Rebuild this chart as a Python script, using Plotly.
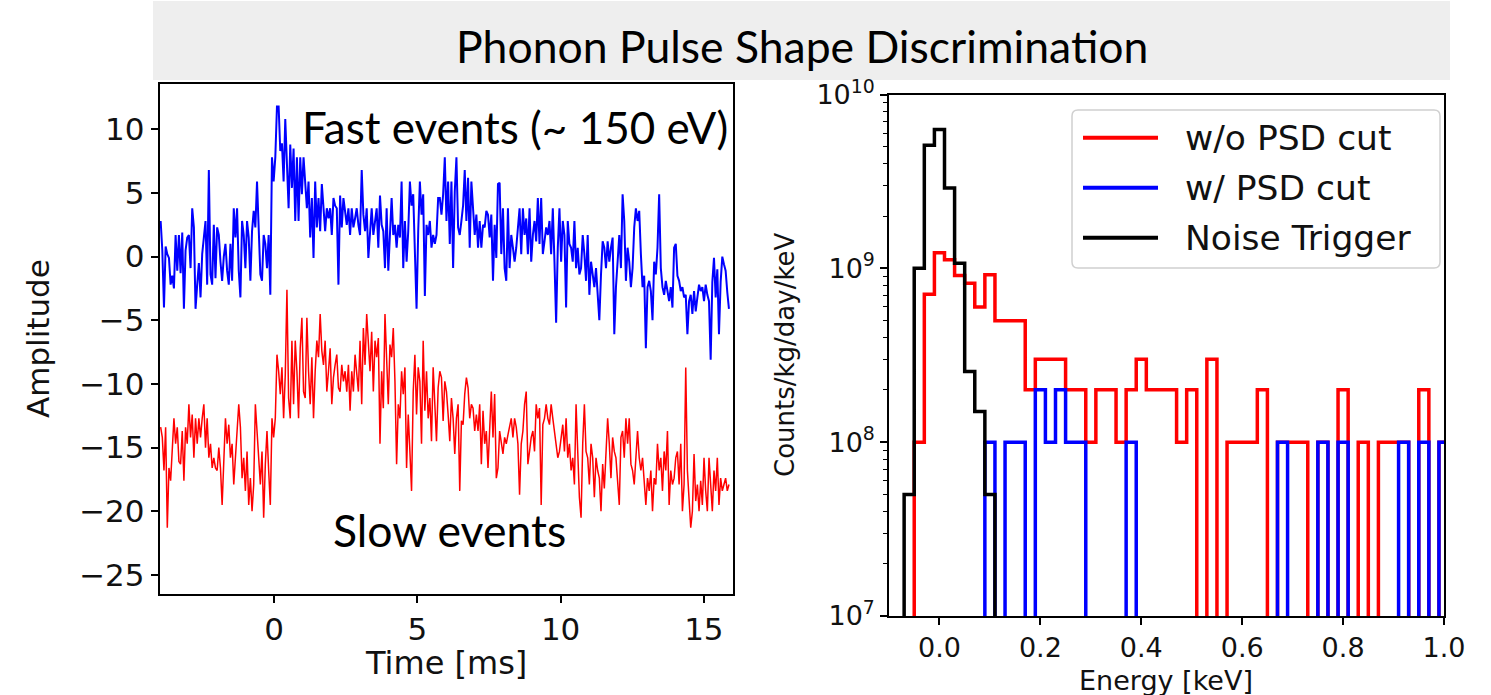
import numpy as np
import plotly.graph_objects as go

W, H = 1491, 695

# ---------------- left panel: pulse traces ----------------
T0 = -3.96      # ms, first sample
DT = 0.058      # ms, sample spacing

fast_amp = [
    2.8, 0.5, -4.0, 0.8, 0.2, -0.1, -2.2, -1.5, -2.5, 1.7,
    -1.1, 1.7, -1.3, 1.9, -4.1, 0.5, 1.5, 1.7, -0.9, 3.8,
    2.3, -4.1, -2.2, -0.5, -3.2, 0.2, 1.5, 2.8, -2.2, 6.8,
    -1.4, -2.2, 2.5, -1.7, 2.3, 1.7, -0.4, -1.9, 0.0, 1.0,
    -1.1, -2.2, 1.0, -1.9, 3.8, 1.5, 3.8, -1.1, -3.2, 2.8,
    1.7, -0.9, 2.8, 1.5, -1.9, 2.0, 3.6, 2.3, 5.9, 1.7,
    -1.4, -1.9, 1.7, 1.0, -0.9, 1.7, -3.0, 7.8, 5.9, 7.8,
    11.8, 11.8, 8.3, 8.9, 5.9, 10.8, 7.0, 3.8, 8.8, 5.4,
    8.5, 2.8, 7.8, 2.8, 7.8, 4.9, 7.8, 5.5, 3.8, 5.9,
    1.5, 4.6, -0.1, 5.9, 2.3, 4.6, 2.0, 5.7, 3.6, 2.0,
    3.8, 3.0, 3.8, 1.7, 4.6, 4.0, 3.8, -2.2, 4.8, 2.3,
    4.6, 3.5, 2.5, 3.8, 1.7, 3.8, 2.3, 3.0, 3.8, 2.5,
    1.7, 6.8, 3.3, 2.0, 3.8, -0.1, 2.0, 3.8, 1.7, 3.0,
    3.8, 0.7, 4.8, 2.5, 2.0, -0.9, 3.8, -1.1, 2.3, 4.6,
    1.7, 2.5, 0.7, 2.5, 1.5, 5.9, -0.9, 2.8, -0.4, 2.0,
    5.9, 4.0, 4.9, 0.2, -4.1, 2.0, 5.9, 3.3, 4.9, -3.1,
    2.5, 1.7, 2.8, 0.7, 1.7, 1.0, 1.7, 4.6,
    4.6, 3.3, 4.9, 7.8, 2.8, 5.9, 1.0, 5.9, -0.9, 5.1,
    7.8, 2.3, 1.7, 2.8, 4.0, 6.8, 2.8, 6.2, 0.7, 5.9,
    3.8, 1.7, 3.3, 0.7, 2.8, 0.7, 2.5, 2.3, 3.6, 3.3,
    1.5, 3.3, -1.9, 2.5, -0.1, 5.7, 5.8, 0.2, 3.8, -0.9,
    -1.9, 3.8, -0.9, 1.7, 0.7, -0.4, 0.7, 2.0, 3.8, 0.2,
    3.8, 1.7, 3.0, 0.2, 3.8, -0.4, 1.7, 2.8, 1.2, 4.6,
    1.0, 4.6, 0.2, 1.2, 2.3, 1.7, 2.8, 0.2, 3.8, -0.4,
    -5.2, 0.7, 3.8, -0.4, 2.8, 1.7, -4.0, 2.8, 1.0, 0.7,
    -0.4, 2.8, -0.9, 0.7, -1.4, -0.9, 1.7, 0.2, -1.9, 1.7,
    -3.0, -0.4, -1.4, -2.4, -0.9, -2.7, -5.0, -1.4, 1.2, 0.7,
    -0.9, 1.2, -0.4, 0.7, 1.5, -6.1, -2.4, -0.4, 1.7, -0.9,
    4.9, 2.8, -1.9, 0.7, -0.4, -2.4, -0.9, 2.3, 3.8, 2.8,
    3.6, 0.2, -2.4, -1.5, -7.2, -2.4, -1.9, -2.7, -5.0, -0.4,
    -1.4, 0.7, 4.9, -0.9, -2.4, -3.0, -1.9, -2.7, -3.5, -2.4,
    -4.0, 0.7, 1.0, -1.5, -1.9, -2.7, -2.4, -3.2, -3.0, -6.1,
    -3.5, -3.0, -4.5, -2.7, -4.3, -3.2, -2.2, -2.7, -2.4, -3.5,
    -2.2, -3.0, -3.5, -8.1, -2.0, -0.1, -3.2, -1.0, -6.1, -2.0,
    0.0, -0.6, -1.1, -2.8, -4.1,
]

slow_amp = [
    -13.4, -14.2, -16.8, -13.4, -21.3, -16.6, -17.6, -14.5, -12.7, -14.7,
    -13.4, -16.1, -16.3, -13.7, -17.6, -13.4, -14.7, -11.6, -14.2, -12.4,
    -15.8, -12.7, -14.7, -12.7, -14.2, -12.7, -11.6, -15.0, -12.7, -15.8,
    -14.7, -16.6, -15.8, -16.6, -16.8, -15.0, -16.6, -19.5, -16.3, -12.7,
    -14.7, -13.2, -15.8, -14.7, -17.9, -15.8, -14.2, -11.6, -13.4, -17.4,
    -15.8, -18.4, -15.3, -19.5, -17.4, -20.0, -17.9, -11.6, -13.7, -16.3,
    -17.9, -15.3, -20.5, -16.3, -13.7, -16.8, -19.5, -12.7, -14.2, -12.7,
    -7.7, -9.0, -10.8, -8.7, -12.7, -9.3, -2.6, -11.1, -12.7, -6.6,
    -11.6, -6.6, -9.0, -12.7, -7.2, -4.8, -10.6, -11.1, -4.8, -9.0,
    -11.6, -7.9, -12.7, -9.0, -6.6, -7.9, -4.5, -7.4, -8.5, -6.6,
    -10.6, -9.0, -7.2, -11.6, -9.5, -8.5, -7.7, -10.3, -10.6, -8.5,
    -9.8, -9.0, -10.6, -8.5, -12.1, -9.0, -10.6, -7.7, -9.5, -10.6,
    -6.6, -11.6, -5.6, -8.5, -4.5, -6.4, -9.0, -5.9, -10.6, -6.6,
    -7.9, -6.4, -14.7, -9.0, -11.9, -4.5, -9.0, -11.6, -6.9, -7.9,
    -5.6, -9.8, -16.3, -11.6, -12.7, -9.0, -10.8, -8.7, -16.6, -12.4,
    -15.3, -18.4, -10.6, -7.7, -12.4, -8.7, -9.8, -14.7, -6.6, -12.1,
    -9.0, -12.7, -11.1, -14.5, -8.7, -11.6, -14.5, -10.3,
    -9.0, -9.5, -12.9, -9.8, -10.6, -12.4, -14.5, -11.1, -12.7, -15.5,
    -12.7, -11.6, -18.4, -12.9, -13.2, -10.8, -9.5, -10.3, -12.7, -11.6,
    -11.9, -13.7, -12.4, -13.7, -11.6, -16.3, -12.1, -14.7, -13.7, -16.6,
    -13.4, -10.6, -14.2, -10.8, -17.4, -16.6, -13.7, -14.7, -15.5, -14.2,
    -14.7, -14.0, -13.4, -12.7, -14.2, -12.7, -13.4, -14.7, -18.7, -14.7,
    -13.7, -11.6, -10.6, -16.3, -15.3, -14.2, -13.7, -15.3, -11.6, -12.7,
    -11.9, -19.5, -13.2, -12.7, -11.6, -12.7, -13.2, -11.6, -12.7, -13.7,
    -14.7, -15.8, -15.3, -14.2, -13.2, -15.3, -12.7, -15.8, -14.7, -16.8,
    -15.8, -17.9, -11.6, -15.3, -18.9, -20.5, -14.7, -11.6, -15.3, -15.8,
    -17.9, -14.7, -15.8, -18.9, -15.8, -16.8, -17.4, -20.0, -16.3, -18.2,
    -15.3, -12.7, -14.7, -17.4, -14.2, -15.3, -15.8, -17.4, -19.5, -14.2,
    -13.7, -15.8, -12.7, -14.7, -12.7, -16.3, -16.8, -17.9, -15.8, -13.7,
    -15.8, -16.8, -15.8, -17.9, -19.5, -17.4, -18.4, -16.8, -20.0, -17.4,
    -17.9, -14.7, -16.8, -15.8, -18.4, -15.3, -16.8, -13.7, -19.5, -16.8,
    -17.9, -17.4, -15.8, -15.3, -17.9, -14.7, -20.0, -17.9, -8.7, -16.8,
    -19.5, -21.3, -20.0, -15.5, -19.2, -17.9, -20.0, -17.6, -19.5, -15.8,
    -18.4, -20.0, -15.8, -17.9, -20.0, -16.8, -18.4, -15.8, -19.5, -17.4,
    -18.4, -17.9, -17.4, -18.4, -17.9,
]

time_ticks = [0, 5, 10, 15]
amp_ticks = [-25, -20, -15, -10, -5, 0, 5, 10]

# ---------------- right panel: energy spectra ----------------
bin_edges = np.round(-0.07 + 0.02 * np.arange(55), 2)   # -0.07 ... 1.01 keV

no_psd = [0, 1e8, 7.1e8, 1.23e9, 1.12e9, 9.1e8, 8.2e8, 6.0e8, 9.2e8, 5e8,
          5e8, 5e8, 2e8, 3e8, 3e8, 3e8, 2e8, 2e8, 1e8, 2e8,
          2e8, 1e8, 2e8, 3e8, 2e8, 2e8, 2e8, 1e8, 2e8, 0,
          3e8, 0, 1e8, 1e8, 1e8, 2e8, 0, 1e8, 1e8, 1e8,
          0, 1e8, 0, 2e8, 0, 1e8, 0, 1e8, 1e8, 1e8,
          0, 2e8, 0, 1e8]
with_psd = [0, 0, 0, 0, 0, 0, 0, 0, 1e8, 0,
            1e8, 1e8, 0, 2e8, 1e8, 2e8, 1e8, 1e8, 0, 0,
            0, 0, 1e8, 0, 0, 0, 0, 0, 0, 0,
            0, 0, 0, 0, 0, 0, 0, 1e8, 0, 0,
            0, 1e8, 0, 1e8, 0, 0, 0, 0, 0, 1e8,
            0, 1e8, 0, 1e8]
noise_trig = [5e7, 1e9, 5.1e9, 6.3e9, 2.9e9, 1.07e9, 2.55e8, 1.5e8, 5e7, 0,
              0, 0, 0, 0, 0, 0, 0, 0, 0, 0,
              0, 0, 0, 0, 0, 0, 0, 0, 0, 0,
              0, 0, 0, 0, 0, 0, 0, 0, 0, 0,
              0, 0, 0, 0, 0, 0, 0, 0, 0, 0,
              0, 0, 0, 0]

energy_ticks = [0.0, 0.2, 0.4, 0.6, 0.8, 1.0]
series_names = ["w/o PSD cut", "w/ PSD cut", "Noise Trigger"]
series_colors = ["#ff0000", "#0000ff", "#000000"]

# ---------------- helpers ----------------
def px(x):
    return x / W

def py(y):
    return 1 - y / H

FLOOR = 1e4  # stands in for an empty bin on the log axis (drawn below the frame)

def step_xy(vals):
    xs = [bin_edges[0]] + list(bin_edges)
    ys = [FLOOR] + [v if v > 0 else FLOOR for v in vals] + [FLOOR]
    return xs, ys

fig = go.Figure()

t_fast = T0 + DT * np.arange(len(fast_amp))
t_slow = T0 + DT * np.arange(len(slow_amp))
fig.add_trace(go.Scatter(x=t_fast, y=fast_amp, mode="lines",
                         line=dict(color="#0000ff", width=2),
                         xaxis="x", yaxis="y", showlegend=False))
fig.add_trace(go.Scatter(x=t_slow, y=slow_amp, mode="lines",
                         line=dict(color="#ff0000", width=1.5),
                         xaxis="x", yaxis="y", showlegend=False))

for vals, name, col in zip([no_psd, with_psd, noise_trig], series_names, series_colors):
    xs, ys = step_xy(vals)
    fig.add_trace(go.Scatter(x=xs, y=ys, mode="lines", name=name,
                             line=dict(color=col, width=3.5, shape="hv"),
                             xaxis="x2", yaxis="y2", showlegend=False))

TICKFONT_L = dict(family="DejaVu Sans", size=31, color="#111")
TICKFONT_R = dict(family="DejaVu Sans", size=27, color="#111")
axis_common = dict(showline=True, mirror=True, linecolor="black", linewidth=1.5,
                   ticks="outside", ticklen=7, tickwidth=1.5, tickcolor="black",
                   showgrid=False, zeroline=False, automargin=False)

fig.update_layout(
    width=W, height=H,
    margin=dict(l=0, r=0, t=0, b=0, pad=0, autoexpand=False),
    showlegend=False,
    paper_bgcolor="white", plot_bgcolor="white",
    xaxis=dict(domain=[px(159.5), px(732.5)], range=[-4, 16], anchor="y",
               tickvals=time_ticks, ticktext=[str(v) for v in time_ticks],
               tickfont=TICKFONT_L, **axis_common),
    yaxis=dict(domain=[py(594), py(83.5)], range=[-26.5, 13.6], anchor="x",
               tickvals=amp_ticks,
               ticktext=[("\u2212" + str(-v)) if v < 0 else str(v) for v in amp_ticks],
               tickfont=TICKFONT_L, **axis_common),
    xaxis2=dict(domain=[px(889), px(1444)], range=[-0.1, 1.0], anchor="y2",
                tickvals=energy_ticks, ticktext=[f"{v:.1f}" for v in energy_ticks],
                tickfont=TICKFONT_R, **axis_common),
    yaxis2=dict(domain=[py(616), py(94.5)], type="log", range=[7, 10], anchor="x2",
                tickvals=[1e7, 1e8, 1e9, 1e10],
                ticktext=["10<sup>7</sup>", "10<sup>8</sup>", "10<sup>9</sup>", "10<sup>10</sup>"],
                tickfont=TICKFONT_R,
                minor=dict(ticks="outside", ticklen=4, tickwidth=1, tickcolor="black",
                           tickvals=[m * 10 ** e for e in (7, 8, 9) for m in range(2, 10)]),
                **axis_common),
)

# title banner
fig.add_shape(type="rect", xref="paper", yref="paper",
              x0=px(153), x1=px(1450), y0=py(80), y1=py(1),
              fillcolor="#eeeeee", line=dict(width=0), layer="below")
CAL = "Lato, Carlito, Calibri, sans-serif"
ann = []
ann.append(dict(text="Phonon Pulse Shape Discrimination", x=px(802), y=py(45),
                font=dict(family=CAL, size=44.5, color="black")))
ann.append(dict(text="Fast events (~ 150 eV)", x=px(515), y=py(127),
                font=dict(family=CAL, size=44, color="black")))
ann.append(dict(text="Slow events", x=px(449), y=py(529),
                font=dict(family=CAL, size=44.5, color="black")))
# axis titles
ann.append(dict(text="Time [ms]", x=px(446), y=py(663),
                font=dict(family="DejaVu Sans", size=32, color="#111")))
ann.append(dict(text="Amplitude", x=px(38), y=py(339), textangle=-90,
                font=dict(family="DejaVu Sans", size=31, color="#111")))
ann.append(dict(text="Energy [keV]", x=px(1166), y=py(680),
                font=dict(family="DejaVu Sans", size=27, color="#111")))
ann.append(dict(text="Counts/kg/day/keV", x=px(785), y=py(355), textangle=-90,
                font=dict(family="DejaVu Sans", size=26, color="#111")))

# legend (drawn by hand to match matplotlib's long line handles)
lx0, lx1, ly0, ly1 = 1072, 1440, 110, 268
rx, ry = 6 / W, 6 / H
X0, X1, Y0, Y1 = px(lx0), px(lx1), py(ly1), py(ly0)
path = (f"M {X0+rx},{Y0} L {X1-rx},{Y0} Q {X1},{Y0} {X1},{Y0+ry} L {X1},{Y1-ry} "
        f"Q {X1},{Y1} {X1-rx},{Y1} L {X0+rx},{Y1} Q {X0},{Y1} {X0},{Y1-ry} "
        f"L {X0},{Y0+ry} Q {X0},{Y0} {X0+rx},{Y0} Z")
fig.add_shape(type="path", path=path, xref="paper", yref="paper",
              fillcolor="rgba(255,255,255,0.85)", line=dict(color="#d0d0d0", width=1.5))
for i, (name, col) in enumerate(zip(series_names, series_colors)):
    yy = 137.7 + 50 * i
    fig.add_shape(type="line", xref="paper", yref="paper",
                  x0=px(1083), x1=px(1158), y0=py(yy), y1=py(yy),
                  line=dict(color=col, width=4))
    ann.append(dict(text=name, x=px(1183), y=py(yy), xanchor="left",
                    font=dict(family="DejaVu Sans", size=34.5, color="#111")))

for a in ann:
    a.setdefault("xanchor", "center")
    a.update(xref="paper", yref="paper", yanchor="middle", showarrow=False)
    fig.add_annotation(**a)

fig.write_html(
    "out.html",
    config={"displayModeBar": False},
    post_script="document.body.style.margin='0';document.body.style.padding='0';"
                "document.body.style.overflow='hidden';",
)
